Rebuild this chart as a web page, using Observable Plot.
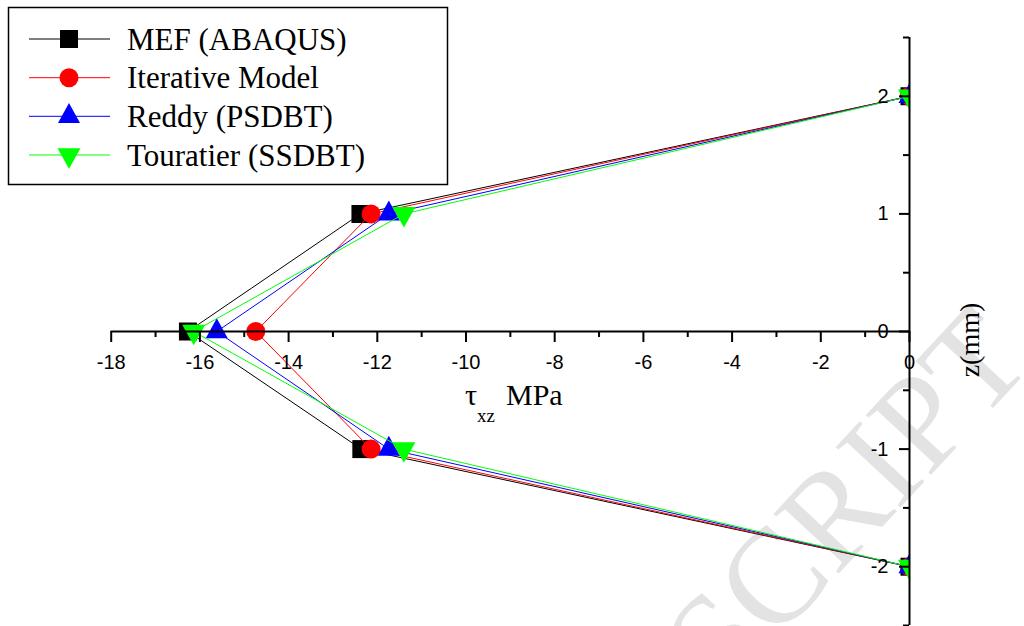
<!DOCTYPE html>
<html><head><meta charset="utf-8">
<script src="https://cdn.jsdelivr.net/npm/d3@7"></script>
<script src="https://cdn.jsdelivr.net/npm/@observablehq/plot@0.6"></script>
<style>body{margin:0;background:#fff;} #chart{position:relative;width:1024px;height:626px;}</style>
</head><body><div id="chart"></div>
<script>
// ---- data ----
const zLevels = [2, 1, 0, -1, -2];
const seriesNames = ["MEF (ABAQUS)", "Iterative Model", "Reddy (PSDBT)", "Touratier (SSDBT)"];
const mefValues = [0, -12.38, -16.27, -12.36, 0];
const iterativeValues = [0, -12.14, -14.74, -12.14, 0];
const reddyValues = [0, -11.74, -15.62, -11.74, 0];
const touratierValues = [0, -11.40, -16.14, -11.40, 0];
const xMajorTicks = [-18, -16, -14, -12, -10, -8, -6, -4, -2, 0];
const xMinorTicks = [-17, -15, -13, -11, -9, -7, -5, -3, -1];
const yMajorTicks = [-2, -1, 0, 1, 2];
const yMinorTicks = [-2.5, -1.5, -0.5, 0.5, 1.5, 2.5];
const seriesColors = ["#000000", "#ff0000", "#0000ff", "#00ff00"];

// ---- symbols (scaled from r = 10) ----
function sym(fn) { return {draw(ctx, size) { const k = Math.sqrt(size / Math.PI) / 10; fn(ctx, k); }}; }
const symSquare = sym((c, k) => { const s = 9 * k; c.moveTo(-s, -s); c.lineTo(s, -s); c.lineTo(s, s); c.lineTo(-s, s); c.closePath(); });
const symCircle = sym((c, k) => { const r = 9.5 * k; c.moveTo(r, 0); c.arc(0, 0, r, 0, 2 * Math.PI); c.closePath(); });
const symUp = sym((c, k) => { const w = 11 * k, h = 20 * k; c.moveTo(0, -2 * h / 3); c.lineTo(w, h / 3); c.lineTo(-w, h / 3); c.closePath(); });
const symDown = sym((c, k) => { const w = 11.5 * k, h = 20.5 * k; c.moveTo(0, 2 * h / 3); c.lineTo(w, -h / 3); c.lineTo(-w, -h / 3); c.closePath(); });
const seriesSymbols = [symSquare, symCircle, symUp, symDown];

const allValues = [mefValues, iterativeValues, reddyValues, touratierValues];
const table = allValues.map((vals, i) => vals.map((v, j) => ({series: seriesNames[i], x: v, z: zLevels[j]})));

// ---- layout ----
const W = 1024, H = 626, mL = 110.7, mR = 1024 - 909, mT = 37, mB = 1;
const x0 = W - mR;                         // pixel of x = 0
const y0 = mT + (H - mT - mB) / 2;         // pixel of z = 0
const fmt = d => String(d);

const seriesMarks = [];
table.forEach((rows, i) => {
  seriesMarks.push(Plot.line(rows, {x: "x", y: "z", stroke: seriesColors[i], strokeWidth: 1, clip: true}));
  seriesMarks.push(Plot.dot(rows, {x: "x", y: "z", r: 10, symbol: seriesSymbols[i], fill: seriesColors[i], stroke: "none", clip: true}));
});

const plot = Plot.plot({
  width: W, height: H,
  marginLeft: mL, marginRight: mR, marginTop: mT, marginBottom: mB,
  x: {domain: [-18, 0]},
  y: {domain: [-2.5, 2.5]},
  style: {fontFamily: "Liberation Sans, Arial, sans-serif", fontSize: "20px", color: "#000", background: "#fff", overflow: "hidden"},
  marks: [
    Plot.text(["SCRIPT"], {frameAnchor: "top-left", dx: 1003 - mL, dy: 333 - mT, rotate: -47,
      textAnchor: "end", lineAnchor: "middle", fontSize: 135, fontFamily: "Liberation Serif, Times New Roman, serif", fill: "#e3e3e3"}),
    ...seriesMarks,
    Plot.ruleY([0], {x1: -18, x2: 0, stroke: "#000", strokeWidth: 2}),
    Plot.ruleX([0], {stroke: "#000", strokeWidth: 2}),
    Plot.axisX(xMajorTicks, {anchor: "bottom", dy: y0 - (H - mB), tickSize: 11, tickPadding: 12, strokeWidth: 2, tickFormat: fmt, label: null, fontSize: 20}),
    Plot.axisX(xMinorTicks, {anchor: "bottom", dy: y0 - (H - mB), tickSize: 6, strokeWidth: 2, tickFormat: () => "", label: null}),
    Plot.axisY(yMajorTicks, {anchor: "left", dx: x0 - mL, tickSize: 10, tickPadding: 11, strokeWidth: 2, tickFormat: fmt, label: null, fontSize: 20}),
    Plot.axisY(yMinorTicks, {anchor: "left", dx: x0 - mL, tickSize: 6, strokeWidth: 2, tickFormat: () => "", label: null})
  ]
});
document.getElementById("chart").appendChild(plot);

// ---- axis titles and legend ----
const svg = d3.select(plot);
const serif = "Liberation Serif, Times New Roman, serif";
const xt = svg.append("text").attr("x", 465).attr("y", 405).attr("text-anchor", "start")
  .attr("font-family", serif).attr("font-size", 30).attr("fill", "#000");
xt.append("tspan").text("τ");
xt.append("tspan").attr("font-size", 19).attr("dy", 17).text("xz");
xt.append("tspan").attr("dy", -17).attr("dx", 11).text("MPa");

svg.append("text").attr("transform", "translate(979,340) rotate(-90)").attr("text-anchor", "middle")
  .attr("font-family", serif).attr("font-size", 28).attr("fill", "#000").text("z(mm)");

const lg = svg.append("g");
lg.append("rect").attr("x", 8.5).attr("y", 7.5).attr("width", 439).attr("height", 177)
  .attr("fill", "#fff").attr("stroke", "#000").attr("stroke-width", 1.5);
const rowY = [39, 77.7, 116.3, 155];
seriesNames.forEach((name, i) => {
  const y = rowY[i];
  lg.append("line").attr("x1", 29).attr("x2", 110).attr("y1", y).attr("y2", y).attr("stroke", seriesColors[i]).attr("stroke-width", 1);
  const p = d3.path(); seriesSymbols[i].draw(p, 100 * Math.PI);
  lg.append("path").attr("transform", `translate(69,${y})`).attr("d", p.toString()).attr("fill", seriesColors[i]);
  lg.append("text").attr("x", 127).attr("y", y + 10.5).attr("text-anchor", "start")
    .attr("font-family", serif).attr("font-size", 31).attr("fill", "#000").text(name);
});
</script>
</body></html>
